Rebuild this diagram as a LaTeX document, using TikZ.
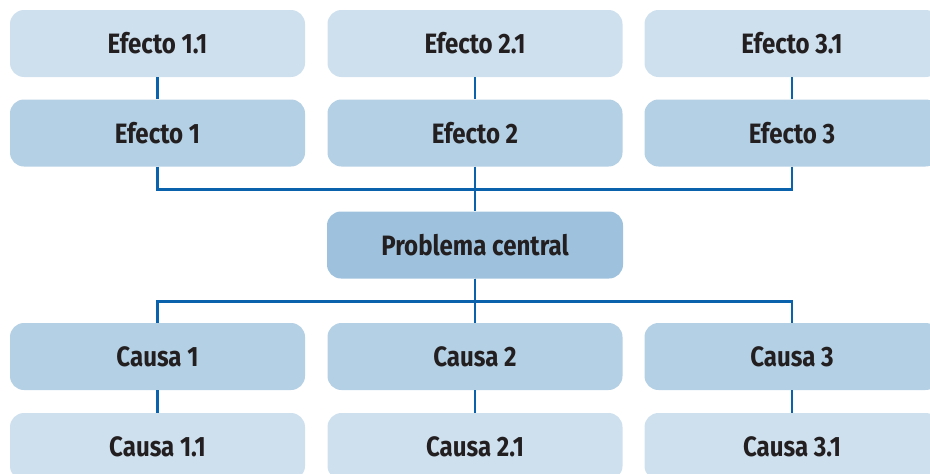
\documentclass[tikz,border=0pt]{standalone}
\usepackage{fontspec}
\setmainfont{Fira Sans}[UprightFont=* Bold, FakeStretch=0.86]
\definecolor{boxlight}{RGB}{206,224,238}
\definecolor{boxmid}{RGB}{180,208,228}
\definecolor{boxdark}{RGB}{158,194,221}
\definecolor{linkblue}{RGB}{10,98,172}
\definecolor{txt}{RGB}{35,31,32}
\begin{document}
\begin{tikzpicture}[x=1pt,y=-1pt,
  cbox/.style={rectangle, rounded corners=14pt, minimum width=295pt, minimum height=67pt,
    inner sep=0pt, text=txt, font=\fontsize{28}{30}\selectfont},
  lvlone/.style={cbox, fill=boxlight},
  lvltwo/.style={cbox, fill=boxmid},
  central/.style={cbox, fill=boxdark, minimum width=296pt},
  link/.style={draw=linkblue, line width=2.6pt}]
\useasboundingbox (0,0) rectangle (930,474);
\clip (0,0) rectangle (930,474);
% nodes
\node[lvlone] (e11) at (157.5,43.5) {Efecto 1.1};
\node[lvlone] (e21) at (475,43.5) {Efecto 2.1};
\node[lvlone] (e31) at (792,43.5) {Efecto 3.1};
\node[lvltwo] (e1) at (157.5,133) {Efecto 1};
\node[lvltwo] (e2) at (475,133) {Efecto 2};
\node[lvltwo] (e3) at (792,133) {Efecto 3};
\node[central] (pc) at (475,245) {Problema central};
\node[lvltwo] (c1) at (157.5,356.5) {Causa 1};
\node[lvltwo] (c2) at (475,356.5) {Causa 2};
\node[lvltwo] (c3) at (792,356.5) {Causa 3};
\node[lvlone] (c11) at (157.5,446.5) {Causa 1.1};
\node[lvlone] (c21) at (475,446.5) {Causa 2.1};
\node[lvlone] (c31) at (792,446.5) {Causa 3.1};
% connectors
\draw[link] (e11.south) -- (e1.north);
\draw[link] (e21.south) -- (e2.north);
\draw[link] (e31.south) -- (e3.north);
\draw[link] (e2.south) -- (pc.north);
\draw[link] (e1.south) -- ++(0,23) -| (pc.north);
\draw[link] (e3.south) -- ++(0,23) -| (pc.north);
\draw[link] (pc.south) -- (c2.north);
\draw[link] (pc.south) -- ++(0,22.5) -| (c1.north);
\draw[link] (pc.south) -- ++(0,22.5) -| (c3.north);
\draw[link] (c1.south) -- (c11.north);
\draw[link] (c2.south) -- (c21.north);
\draw[link] (c3.south) -- (c31.north);
\end{tikzpicture}
\end{document}
